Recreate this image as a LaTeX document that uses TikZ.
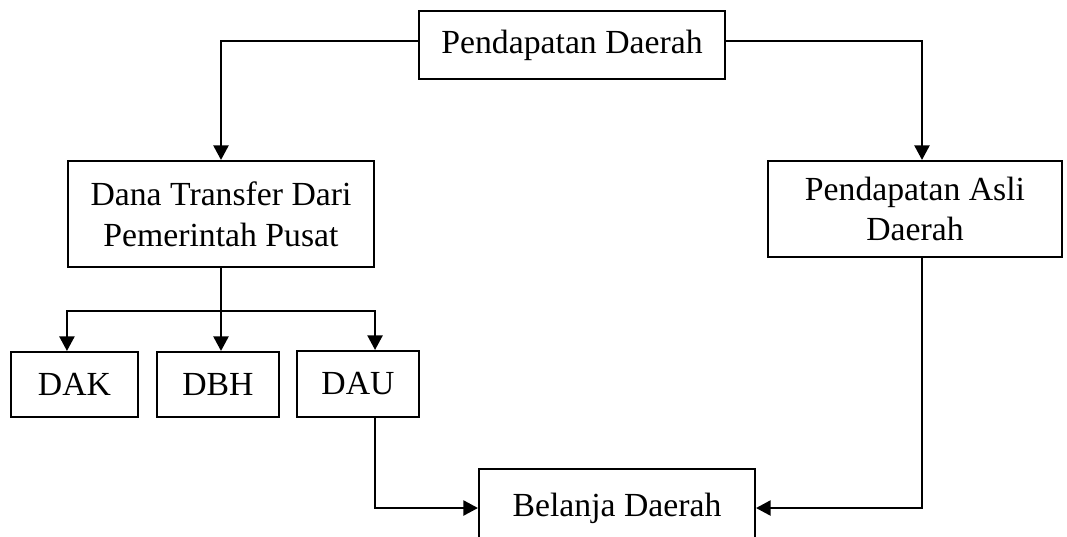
\documentclass[tikz,border=0pt]{standalone}
\usepackage{fontspec}
\setmainfont{Liberation Serif}
\usepackage{tikz}
\usetikzlibrary{positioning,arrows.meta}
\tikzset{
  box/.style={draw=black, line width=0.9pt, align=center, inner sep=2pt, font=\fontsize{14.5}{17.5}\selectfont},
  link/.style={draw=black, line width=0.95pt},
  edge/.style={link, -{Triangle[length=6.3pt,width=6.5pt]}},
}
\begin{document}
\begin{tikzpicture}[x=0.43pt, y=-0.43pt]
  \useasboundingbox (0,0) rectangle (1067,536);
  \node[box, minimum width=306*0.43pt, minimum height=68*0.43pt] (pd) at (572,45) {Pendapatan Daerah};
  \node[box, minimum width=306*0.43pt, minimum height=106*0.43pt] (dtp) at (221,214) {Dana Transfer Dari\\Pemerintah Pusat};
  \node[box, minimum width=294*0.43pt, minimum height=96*0.43pt] (pad) at (915,209) {Pendapatan Asli\\Daerah};
  \node[box, minimum width=127*0.43pt, minimum height=65*0.43pt] (dak) at (74.5,384.5) {DAK};
  \node[box, minimum width=122*0.43pt, minimum height=65*0.43pt] (dbh) at (218,384.5) {DBH};
  \node[box, minimum width=122*0.43pt, minimum height=66*0.43pt] (dau) at (358,384) {DAU};
  \node[box, minimum width=276*0.43pt, minimum height=78*0.43pt] (bd) at (617,508) {Belanja Daerah};
  \coordinate (fork) at (221,311);
  \coordinate (padin) at ([xshift=7*0.43pt]pad.north);
  \coordinate (padout) at ([xshift=7*0.43pt]pad.south);
  % dari pendapatan daerah
  \draw[edge] ([yshift=4*0.43pt]pd.west) -| (dtp.north);
  \draw[edge] ([yshift=4*0.43pt]pd.east) -| (padin);
  % cabang dana transfer
  \draw[link] (dtp.south) -- (fork);
  \draw[edge] (fork) -| (dtp.west |- dak.north);
  \draw[edge] (fork) -- (fork |- dbh.north);
  \draw[edge] (fork) -| (dtp.east |- dau.north);
  % ke belanja daerah
  \draw[edge] (dtp.east |- dau.south) |- (bd.west);
  \draw[edge] (padout) |- (bd.east);
\end{tikzpicture}
\end{document}
